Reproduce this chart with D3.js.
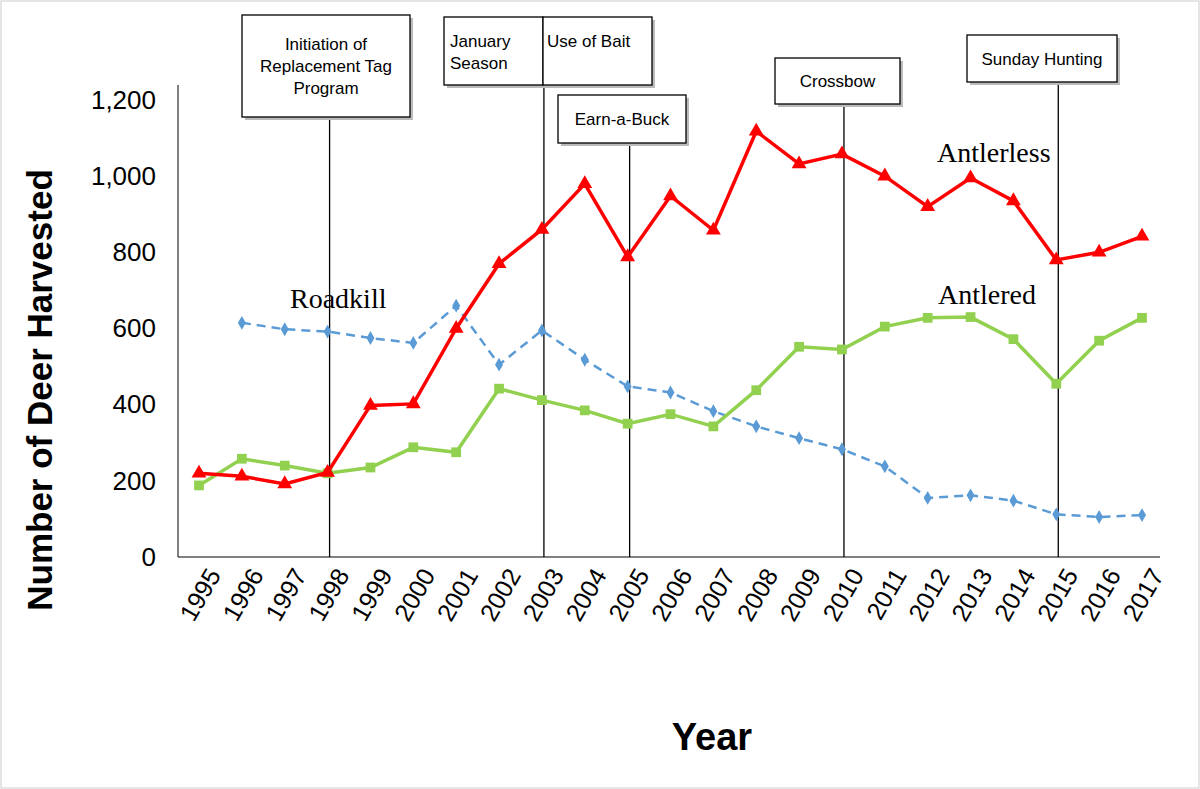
<!DOCTYPE html>
<html><head><meta charset="utf-8">
<script src="https://cdn.jsdelivr.net/npm/d3@7"></script>
<style>body{margin:0;background:#fff}</style></head>
<body><svg id="c" width="1200" height="789"></svg>
<script>
const years=["1995","1996","1997","1998","1999","2000","2001","2002","2003","2004","2005","2006","2007","2008","2009","2010","2011","2012","2013","2014","2015","2016","2017"];
const antlerless=[220,212,192,222,398,402,600,770,860,980,788,948,858,1118,1032,1058,1000,920,995,935,780,800,842];
const antlered=[188,258,240,220,235,288,275,442,412,385,350,375,343,438,552,545,605,628,630,572,455,568,628];
const roadkill=[null,615,598,592,575,562,660,505,595,518,448,432,383,343,312,283,238,155,162,148,112,105,110];
const yTicks=[0,200,400,600,800,1000,1200];
const events=[
 {year:"1998",lines:["Initiation  of","Replacement Tag","Program"],x0:242,x1:410,y0:15,y1:117},
 {year:"2003",lines:["January","Season"],x0:444,x1:543,y0:17,y1:85,align:"start"},
 {year:"2003",lines:["Use of Bait"],x0:543,x1:652,y0:17,y1:85,align:"startTop",noLine:true},
 {year:"2005",lines:["Earn-a-Buck"],x0:558,x1:686,y0:95,y1:143},
 {year:"2010",lines:["Crossbow"],x0:775,x1:900,y0:58,y1:104},
 {year:"2015",lines:["Sunday  Hunting"],x0:967,x1:1117,y0:35,y1:82}
];
const svg=d3.select("#c");
const x=d3.scalePoint().domain(years).range([199,1142]);
const y=d3.scaleLinear().domain([0,1200]).range([557,100]);
svg.append("rect").attr("x",1).attr("y",1).attr("width",1198).attr("height",787).attr("fill","none").attr("stroke","#ccc");
const ya=svg.append("g").attr("transform","translate(178,0)").call(d3.axisLeft(y).tickValues(yTicks).tickFormat(d3.format(",")).tickSize(0).tickPadding(22));
ya.select(".domain").attr("d","M0,85V557");
ya.selectAll("text").attr("font-family","Liberation Sans, Arial").attr("font-size",26).attr("fill","#000");
svg.append("line").attr("x1",178).attr("x2",1160).attr("y1",557).attr("y2",557).attr("stroke","#000");
const xa=svg.append("g").attr("transform","translate(0,557)").call(d3.axisBottom(x).tickSize(0));
xa.select(".domain").remove();
xa.selectAll("text").attr("font-family","Liberation Sans, Arial").attr("font-size",25).attr("fill","#000")
 .attr("text-anchor","end").attr("transform","translate(12,12) rotate(-60)").attr("dy","0.35em").attr("dx",0);
svg.append("text").attr("transform","translate(52,390) rotate(-90)").attr("text-anchor","middle")
 .attr("font-family","Liberation Sans, Arial").attr("font-weight","bold").attr("font-size",35).text("Number of Deer Harvested");
svg.append("text").attr("x",712).attr("y",750).attr("text-anchor","middle")
 .attr("font-family","Liberation Sans, Arial").attr("font-weight","bold").attr("font-size",38).text("Year");
events.forEach(e=>{
 if(!e.noLine) svg.append("line").attr("x1",x(e.year)+2).attr("x2",x(e.year)+2).attr("y1",e.y1).attr("y2",557).attr("stroke","#000").attr("stroke-width",1.3);
 svg.append("rect").attr("x",e.x0+3).attr("y",e.y0+3).attr("width",e.x1-e.x0).attr("height",e.y1-e.y0).attr("fill","#bbb");
 svg.append("rect").attr("x",e.x0).attr("y",e.y0).attr("width",e.x1-e.x0).attr("height",e.y1-e.y0).attr("fill","#fff").attr("stroke","#000").attr("stroke-width",1.3);
 const n=e.lines.length,lh=22;
 e.lines.forEach((t,i)=>{
  let tx=(e.x0+e.x1)/2, anchor="middle", ty=(e.y0+e.y1)/2+(i-(n-1)/2)*lh+6;
  if(e.align==="start"){tx=e.x0+6;anchor="start";ty=e.y0+30+i*lh;}
  if(e.align==="startTop"){tx=e.x0+4;anchor="start";ty=e.y0+30;}
  svg.append("text").attr("x",tx).attr("y",ty).attr("text-anchor",anchor)
   .attr("font-family","Liberation Sans Narrow, Liberation Sans, Arial").attr("font-size",17).attr("font-stretch","condensed").text(t);
 });
});
function series(vals,color,dash,marker){
 const pts=years.map((yr,i)=>({yr,v:vals[i]})).filter(d=>d.v!=null);
 svg.append("path").datum(pts).attr("fill","none").attr("stroke",color).attr("stroke-width",dash?2.5:3.5)
  .attr("stroke-dasharray",dash?"9,6":null).attr("d",d3.line().x(d=>x(d.yr)).y(d=>y(d.v)));
 svg.selectAll(null).data(pts).enter().append("path")
  .attr("transform",d=>`translate(${x(d.yr)},${y(d.v)})`)
  .attr("d",d3.symbol().type(marker).size(marker===d3.symbolDiamond?55:95)).attr("fill",color);
}
series(roadkill,"#5b9bd5",true,d3.symbolDiamond);
series(antlered,"#92d050",false,d3.symbolSquare);
series(antlerless,"#ff0000",false,d3.symbolTriangle);
const lab=[["Antlerless",937,162],["Antlered",938,304],["Roadkill",290,308]];
lab.forEach(l=>svg.append("text").attr("x",l[1]).attr("y",l[2]).attr("font-family","Liberation Serif, Times New Roman").attr("font-size",28).text(l[0]));
</script></body></html>
